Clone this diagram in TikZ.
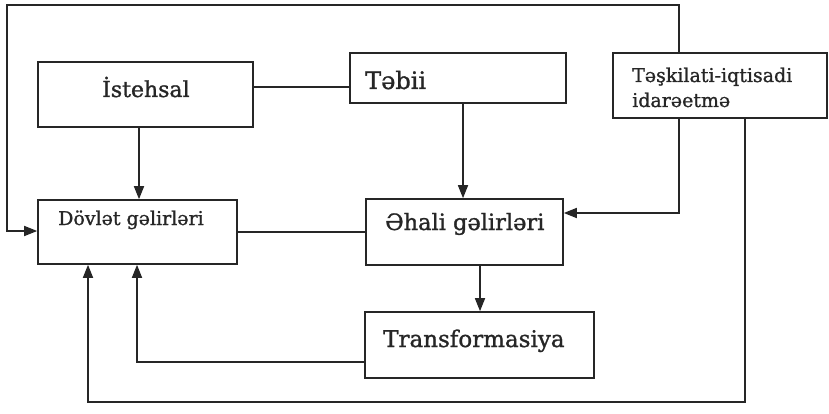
\documentclass[tikz,border=0pt]{standalone}
\usepackage{fontspec}
\setmainfont{DejaVu Serif}[FakeBold=1.2]
\usetikzlibrary{arrows.meta}
\begin{document}
\begin{tikzpicture}[x=1pt,y=-1pt,
  box/.style={draw=black!85, line width=1.6pt, inner sep=0pt},
  conn/.style={draw=black!85, line width=1.6pt},
  arr/.style={conn,-{Triangle[length=13pt,width=10pt]}},
  txt/.style={inner sep=0pt, anchor=base west, text=black!85}]
\useasboundingbox (0,0) rectangle (829,414);
% boxes
\node[box, minimum width=215pt, minimum height=65pt] (ist) at (145.5,94.5) {};
\node[box, minimum width=216pt, minimum height=50pt] (tab) at (458,78) {};
\node[box, minimum width=214pt, minimum height=65pt] (tes) at (720,85.5) {};
\node[box, minimum width=199pt, minimum height=64pt] (dov) at (137.5,232) {};
\node[box, minimum width=197pt, minimum height=66pt] (aha) at (464.5,232) {};
\node[box, minimum width=229pt, minimum height=66pt] (tra) at (479.5,345) {};
% texts
\node[txt, font=\fontsize{22}{26}\selectfont] (tist) at (102,97) {İstehsal};
\node[txt, font=\fontsize{24}{28}\selectfont] (ttab) at (365,89) {Təbii};
\node[txt, font=\fontsize{19}{22}\selectfont] (tdov) at (58,225) {Dövlət gəlirləri};
\node[txt, font=\fontsize{22.5}{26}\selectfont] (taha) at (385,230) {Əhali gəlirləri};
\node[txt, font=\fontsize{23}{27}\selectfont] (ttra) at (383,347) {Transformasiya};
\node[txt, font=\fontsize{19}{25}\selectfont] (ttes1) at (632,82) {Təşkilati-iqtisadi};
\node[txt, font=\fontsize{19}{25}\selectfont] (ttes2) at (632,107) {idarəetmə};
% coordinates for the outer loop
\coordinate (tr) at (679,5);
\coordinate (tl) at (7,5);
\coordinate (bl) at (7,231);
\coordinate (br) at (745,402);
\coordinate (bb) at (88,402);
\coordinate (tk) at (137,362);
% connectors
\draw[conn] (ist.east |- 0,87) -- (tab.west |- 0,87);
\draw[arr] (ist.south -| 139,0) -- (dov.north -| 139,0);
\draw[arr] (tab.south -| 463,0) -- (aha.north -| 463,0);
\draw[arr] (aha.south -| 480,0) -- (tra.north -| 480,0);
\draw[conn] (dov.east) -- (aha.west);
\draw[arr] (tes.north -| tr) -- (tr) -- (tl) -- (bl) -- (dov.west |- bl);
\draw[arr] (tes.south -| tr) -- (679,213) -- (aha.east |- 0,213);
\draw[arr] (tes.south -| br) -- (br) -- (bb) -- (dov.south -| bb);
\draw[arr] (tra.west |- tk) -- (tk) -- (dov.south -| tk);
\end{tikzpicture}
\end{document}
